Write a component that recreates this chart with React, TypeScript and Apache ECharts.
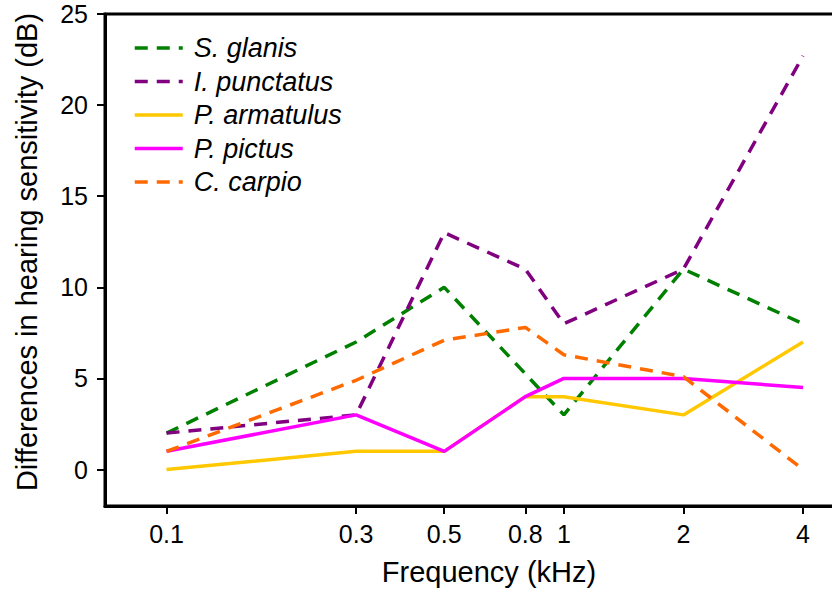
import React, { useEffect, useRef } from 'react';
import * as echarts from 'echarts';

const frequencies = [0.1, 0.3, 0.5, 0.8, 1, 2, 4];
const sGlanis: (number | null)[] = [2, 7, 10, null, 3, 11, 8];
const iPunctatus: (number | null)[] = [2, 3, 13, 11, 8, 11, 22.7];
const pArmatulus: (number | null)[] = [0, 1, 1, 4, 4, 3, 7];
const pPictus: (number | null)[] = [1, 3, 1, 4, 5, 5, 4.5];
const cCarpio: (number | null)[] = [1, 4.9, 7.1, 7.8, 6.3, 5.1, 0];
const xTicks = [0.1, 0.3, 0.5, 0.8, 1, 2, 4];
const yTicks = [0, 5, 10, 15, 20, 25];

const FONT = '"Liberation Sans", Arial, Helvetica, sans-serif';

function pairs(vals: (number | null)[]) {
  const out: number[][] = [];
  vals.forEach((v, i) => {
    if (v !== null) out.push([frequencies[i], v]);
  });
  return out;
}

export default function App() {
  const ref = useRef<HTMLDivElement>(null);
  useEffect(() => {
    if (!ref.current) return;
    const chart = echarts.init(ref.current, null, { renderer: 'svg' });
    const mk = (name: string, vals: (number | null)[], color: string, dashed: boolean) => ({
      name,
      type: 'line',
      data: pairs(vals),
      symbol: 'none',
      lineStyle: { color, width: 3.5, type: dashed ? [13, 9] : 'solid', cap: 'butt' },
      itemStyle: { color },
      z: 3,
    });
    chart.setOption({
      animation: false,
      textStyle: { fontFamily: FONT },
      grid: {
        left: 105,
        top: 14,
        width: 768,
        height: 492,
        outerBoundsMode: 'none',
        containLabel: false,
        show: true,
        borderColor: '#000',
        borderWidth: 3,
        backgroundColor: 'transparent',
      },
      legend: {
        orient: 'vertical',
        left: 128,
        top: 28,
        itemWidth: 48,
        itemHeight: 14,
        itemGap: 3.5,
        itemStyle: { opacity: 0 },
        lineStyle: { width: 3.5 },
        textStyle: {
          fontFamily: FONT,
          fontSize: 27,
          fontStyle: 'italic',
          color: '#000',
          lineHeight: 30,
          padding: [0, 0, 0, 6],
        },
        data: ['S. glanis', 'I. punctatus', 'P. armatulus', 'P. pictus', 'C. carpio'],
      },
      xAxis: {
        type: 'log',
        logBase: 10,
        min: 0.07,
        max: 6,
        name: 'Frequency (kHz)',
        nameLocation: 'middle',
        nameGap: 51,
        nameTextStyle: { fontFamily: FONT, fontSize: 29, color: '#000' },
        axisLine: { show: true, onZero: false, lineStyle: { color: '#000', width: 3 } },
        axisTick: { show: true, length: 8, lineStyle: { color: '#000', width: 2 }, customValues: xTicks },
        axisLabel: {
          fontFamily: FONT,
          fontSize: 25,
          color: '#000',
          margin: 15,
          customValues: xTicks,
          formatter: (v: number) => String(v),
        },
        splitLine: { show: false },
        minorTick: { show: false },
      },
      yAxis: {
        type: 'value',
        min: -2,
        max: 25,
        axisLine: { show: true, onZero: false, lineStyle: { color: '#000', width: 3 } },
        axisTick: { show: true, length: 8, lineStyle: { color: '#000', width: 2 }, customValues: yTicks },
        axisLabel: {
          fontFamily: FONT,
          fontSize: 25,
          color: '#000',
          margin: 17,
          customValues: yTicks,
        },
        splitLine: { show: false },
      },
      graphic: [
        {
          type: 'text',
          x: 27,
          y: 252,
          rotation: Math.PI / 2,
          style: {
            text: 'Differences in hearing sensitivity (dB)',
            fontFamily: FONT,
            fontSize: 29,
            fill: '#000',
            align: 'center',
            verticalAlign: 'middle',
          },
        },
      ],
      series: [
        mk('S. glanis', sGlanis, '#008000', true),
        mk('I. punctatus', iPunctatus, '#800080', true),
        mk('P. armatulus', pArmatulus, '#FFC800', false),
        mk('P. pictus', pPictus, '#FF00FF', false),
        mk('C. carpio', cCarpio, '#FF6A00', true),
      ],
    });
    return () => chart.dispose();
  }, []);
  return (
    <div
      ref={ref}
      style={{ position: 'absolute', left: 0, top: 0, width: 832, height: 589, background: '#fff' }}
    />
  );
}
